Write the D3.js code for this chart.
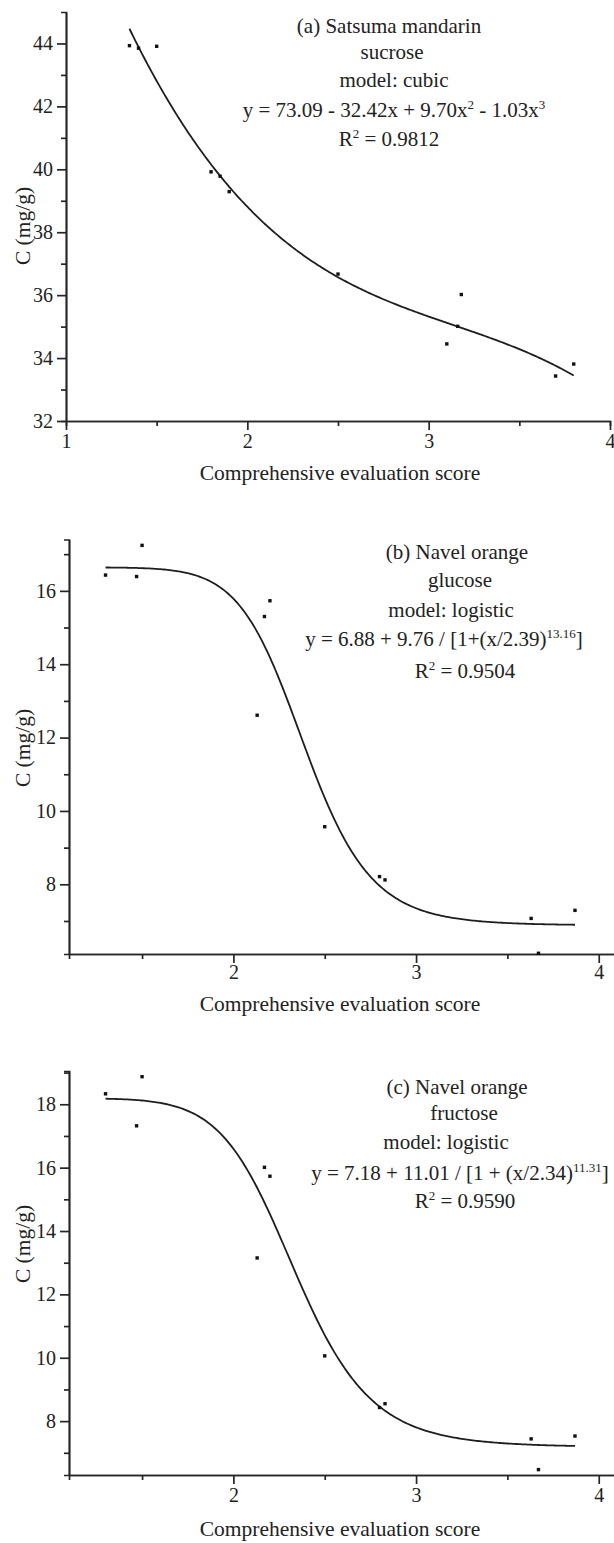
<!DOCTYPE html>
<html>
<head>
<meta charset="utf-8">
<script src="https://cdn.jsdelivr.net/npm/d3@7"></script>
<style>
body { margin: 0; background: #fff; }
svg text { font-family: "Liberation Serif", "Times New Roman", serif; fill: #222; }
</style>
</head>
<body>
<svg id="chart" width="614" height="1543"></svg>
<script>
// measured samples: comprehensive evaluation score vs sugar content (mg/g)
var scoreA   = [1.35, 1.40, 1.50, 1.80, 1.85, 1.90, 2.50, 3.10, 3.16, 3.18, 3.70, 3.80];
var sucrose  = [43.93, 43.85, 43.91, 39.92, 39.78, 39.29, 36.67, 34.45, 35.01, 36.02, 33.43, 33.81];

var scoreBC  = [1.30, 1.47, 1.50, 2.13, 2.17, 2.20, 2.50, 2.80, 2.83, 3.63, 3.67, 3.87];
var glucose  = [16.43, 16.39, 17.24, 12.61, 15.30, 15.73, 9.57, 8.21, 8.12, 7.07, 6.12, 7.29];
var fructose = [18.33, 17.32, 18.87, 13.15, 16.01, 15.73, 10.06, 8.43, 8.55, 7.44, 6.47, 7.53];

// fitted models, coefficients as printed in the panels
var cubicA    = [73.09, -32.42, 9.70, -1.03];      // a0 + a1 x + a2 x^2 + a3 x^3
var logisticB = [6.88, 9.76, 2.39, 13.16];         // A2 + A / (1 + (x/x0)^p)
var logisticC = [7.18, 11.01, 2.34, 11.31];

// tick values
var xMajorA  = [1, 2, 3, 4];
var xMajorBC = [2, 3, 4];
var xMinor   = [1.5, 2.5, 3.5];
var yMajorA  = [32, 34, 36, 38, 40, 42, 44];
var yMinorA  = [33, 35, 37, 39, 41, 43];
var yMajorB  = [8, 10, 12, 14, 16];
var yMinorB  = [7, 9, 11, 13, 15, 17];
var yMajorC  = [8, 10, 12, 14, 16, 18];
var yMinorC  = [7, 9, 11, 13, 15, 17, 19];

// annotation lines, {..} = superscript
var notesA = ["(a) Satsuma mandarin", "sucrose", "model: cubic",
              "y = 73.09 - 32.42x + 9.70x{2} - 1.03x{3}", "R{2} = 0.9812"];
var notesB = ["(b) Navel orange", "glucose", "model: logistic",
              "y = 6.88 + 9.76 / [1+(x/2.39){13.16}]", "R{2} = 0.9504"];
var notesC = ["(c) Navel orange", "fructose", "model: logistic",
              "y = 7.18 + 11.01 / [1 + (x/2.34){11.31}]", "R{2} = 0.9590"];

var xTitle = "Comprehensive evaluation score";
var yTitle = "C (mg/g)";

function cubic(c) {
  return function (x) { return c[0] + c[1] * x + c[2] * x * x + c[3] * x * x * x; };
}
function logistic(c) {
  return function (x) { return c[0] + c[1] / (1 + Math.pow(x / c[2], c[3])); };
}

var panels = [
  { xs: scoreA, ys: sucrose, fit: cubic(cubicA), fitRange: [1.35, 3.80],
    xDom: [1, 4], xRng: [66, 610], yDom: [32, 45], yRng: [421, 12],
    xMajor: xMajorA, yMajor: yMajorA, yMinor: yMinorA, notes: notesA,
    noteX: [389, 392, 394, 394, 389], noteY: [33, 58.5, 87, 117, 146],
    labelDy: 27, titleY: 480, yTitleY: 226 },
  { xs: scoreBC, ys: glucose, fit: logistic(logisticB), fitRange: [1.30, 3.87],
    xDom: [1.1, 4.1], xRng: [69, 617], yDom: [6.1, 17.4], yRng: [954, 539.5],
    xMajor: xMajorBC, yMajor: yMajorB, yMinor: yMinorB, notes: notesB,
    noteX: [457, 460, 451, 444, 465], noteY: [559, 587, 617, 646, 678],
    labelDy: 25, titleY: 1011, yTitleY: 748 },
  { xs: scoreBC, ys: fructose, fit: logistic(logisticC), fitRange: [1.30, 3.87],
    xDom: [1.1, 4.1], xRng: [69, 617], yDom: [6.3, 19.05], yRng: [1475, 1071],
    xMajor: xMajorBC, yMajor: yMajorC, yMinor: yMinorC, notes: notesC,
    noteX: [457, 464, 446, 460, 465], noteY: [1094, 1119.5, 1149, 1180, 1208],
    labelDy: 27, titleY: 1536, yTitleY: 1244 }
];

var svg = d3.select("#chart");

panels.forEach(function (p) {
  var x = d3.scaleLinear().domain(p.xDom).range(p.xRng);
  var y = d3.scaleLinear().domain(p.yDom).range(p.yRng);
  var g = svg.append("g");
  var axisY = p.yRng[0], axisX = p.xRng[0];

  // x axis: minor ticks, then majors with labels
  g.append("g").attr("transform", "translate(0," + axisY + ")")
    .call(d3.axisBottom(x).tickValues(xMinor).tickSize(5).tickFormat(""));
  var xa = g.append("g").attr("class", "xaxis").attr("transform", "translate(0," + axisY + ")")
    .call(d3.axisBottom(x).tickValues(p.xMajor).tickSize(9).tickSizeOuter(0).tickFormat(d3.format("d")));
  xa.selectAll(".tick text").attr("dy", null).attr("y", p.labelDy);

  // y axis
  g.append("g").attr("transform", "translate(" + axisX + ",0)")
    .call(d3.axisLeft(y).tickValues(p.yMinor).tickSize(5).tickFormat(""));
  g.append("g").attr("class", "yaxis").attr("transform", "translate(" + axisX + ",0)")
    .call(d3.axisLeft(y).tickValues(p.yMajor).tickSize(9).tickSizeOuter(0).tickPadding(4).tickFormat(d3.format("d")));

  g.selectAll(".domain, .tick line").attr("stroke", "#262626").attr("stroke-width", 1.7);
  g.selectAll(".tick text").attr("font-size", 20).attr("fill", "#222")
    .attr("font-family", "Liberation Serif, serif");

  // fitted curve
  var curve = d3.range(p.fitRange[0], p.fitRange[1] + 1e-9, 0.01).map(function (v) { return [v, p.fit(v)]; });
  g.append("path").datum(curve)
    .attr("fill", "none").attr("stroke", "#1e1e1e").attr("stroke-width", 1.8)
    .attr("d", d3.line().x(function (d) { return x(d[0]); }).y(function (d) { return y(d[1]); }));

  // sample points
  g.selectAll("rect.pt").data(p.xs).enter().append("rect").attr("class", "pt")
    .attr("x", function (d) { return x(d) - 1.7; })
    .attr("y", function (d, i) { return y(p.ys[i]) - 1.7; })
    .attr("width", 3.4).attr("height", 3.4).attr("fill", "#111");

  // annotation block
  p.notes.forEach(function (line, i) {
    var t = g.append("text").attr("x", p.noteX[i]).attr("y", p.noteY[i])
      .attr("text-anchor", "middle").attr("font-size", 21);
    var sup = false;
    line.split(/(\{[^}]*\})/).forEach(function (part) {
      if (!part) return;
      if (part[0] === "{") {
        t.append("tspan").attr("dy", -8).attr("font-size", 13).text(part.slice(1, -1));
        sup = true;
      } else {
        var s = t.append("tspan").text(part);
        if (sup) { s.attr("dy", 8); sup = false; }
      }
    });
  });

  // axis titles
  g.append("text").attr("x", 340).attr("y", p.titleY)
    .attr("text-anchor", "middle").attr("font-size", 21.5).text(xTitle);
  g.append("text").attr("transform", "translate(30," + p.yTitleY + ") rotate(-90)")
    .attr("text-anchor", "middle").attr("font-size", 21.5).text(yTitle);
});
</script>
</body>
</html>
